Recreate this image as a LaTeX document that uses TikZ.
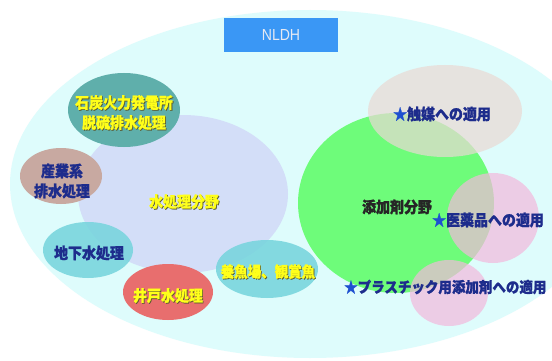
\documentclass[tikz,border=0pt]{standalone}
\usepackage{fontspec}
\usetikzlibrary{shapes.geometric}
\newfontfamily\jpf{Noto Sans CJK JP}[FakeStretch=0.9, BoldFeatures={FakeBold=1.2}]
\newfontfamily\latf{Liberation Sans}[FakeStretch=0.88]
\definecolor{bgcyan}{HTML}{DEFCFC}
\definecolor{nldhblue}{HTML}{3A97F5}
\definecolor{nldhtext}{HTML}{E6E9F2}
\definecolor{lavender}{HTML}{D3DEF8}
\definecolor{tealc}{HTML}{5FAFAB}
\definecolor{rosy}{HTML}{C8A9A1}
\definecolor{turq}{HTML}{74D4DC}
\definecolor{salmon}{HTML}{E86E6E}
\definecolor{greenc}{HTML}{6EFC7A}
\definecolor{beige}{HTML}{EAD9D4}
\definecolor{pinkc}{HTML}{F3B8DC}
\definecolor{navy}{HTML}{1D2C8C}
\definecolor{starblue}{HTML}{1E50D0}
\definecolor{shadowc}{HTML}{5A5A30}
\definecolor{yel}{HTML}{FFFF1A}
\newcommand\ysh[1]{\makebox[0pt][l]{\hspace{0.8pt}\raisebox{-0.8pt}{\textcolor{shadowc}{#1}}}#1}
\newcommand\bst{\textcolor{starblue}{★}}
\tikzset{
  blob/.style={ellipse, inner sep=0pt, draw=none},
  jtext/.style={inner sep=0pt, align=center, font=\jpf\bfseries\fontsize{15.5}{20}\selectfont},
  ylab/.style={jtext, text=yel},
  blab/.style={jtext, text=navy},
}
\begin{document}
\begin{tikzpicture}[x=1pt,y=-1pt]
\useasboundingbox (0,0) rectangle (552,361);
\fill[white] (0,0) rectangle (552,361);
% field
\node[blob, fill=bgcyan, minimum width=600pt, minimum height=348pt] (field) at (310,184) {};
\node[fill=nldhblue, minimum width=114pt, minimum height=34pt, inner sep=0pt,
      font=\latf\fontsize{16}{16}\selectfont, text=nldhtext] (nldh) at (281,35) {NLDH};
% water treatment group
\node[blob, fill=lavender, minimum width=210pt, minimum height=158pt] (water) at (183,194) {};
\node[blob, fill=tealc, minimum width=112pt, minimum height=74pt] (coal) at (124,110) {};
\node[blob, fill=rosy, minimum width=82pt, minimum height=56pt] (ind) at (61,176) {};
\node[blob, fill=turq, fill opacity=0.85, minimum width=90pt, minimum height=56pt] (gw) at (88,250) {};
\node[blob, fill=salmon, minimum width=90pt, minimum height=56pt] (well) at (168,292) {};
\node[blob, fill=turq, fill opacity=0.85, minimum width=102pt, minimum height=58pt] (fish) at (267,269) {};
% additive group
\node[blob, fill=greenc, minimum width=196pt, minimum height=180pt] (add) at (396,203) {};
\node[blob, fill=beige, fill opacity=0.7, minimum width=154pt, minimum height=92pt] (cat) at (445,111) {};
\node[blob, fill=pinkc, fill opacity=0.7, minimum width=92pt, minimum height=90pt] (med) at (493,218) {};
\node[blob, fill=pinkc, fill opacity=0.7, minimum width=78pt, minimum height=66pt] (pla) at (449,293) {};
% labels
\node[ylab] (coalt) at (124,113) {\ysh{石炭火力発電所}\\\ysh{脱硫排水処理}};
\node[blab] (indt) at (62,181) {産業系\\排水処理};
\node[ylab] (watert) at (184,202) {\ysh{水処理分野}};
\node[blab] (gwt) at (89,253) {地下水処理};
\node[ylab] (wellt) at (168,296) {\ysh{井戸水処理}};
\node[ylab, font=\jpf\bfseries\fontsize{15}{20}\selectfont] (fisht) at (268,272) {\ysh{養魚場、観賞魚}};
\node[jtext, text=black!85] (addt) at (397,207) {添加剤分野};
\node[blab] (catt) at (442,114) {\bst 触媒への適用};
\node[blab, anchor=west] (medt) at (432,220) {\bst 医薬品への適用};
\node[blab, anchor=west, font=\jpf\bfseries\fontsize{15}{20}\selectfont] (plat) at (344,287) {\bst プラスチック用添加剤への適用};
\end{tikzpicture}
\end{document}
